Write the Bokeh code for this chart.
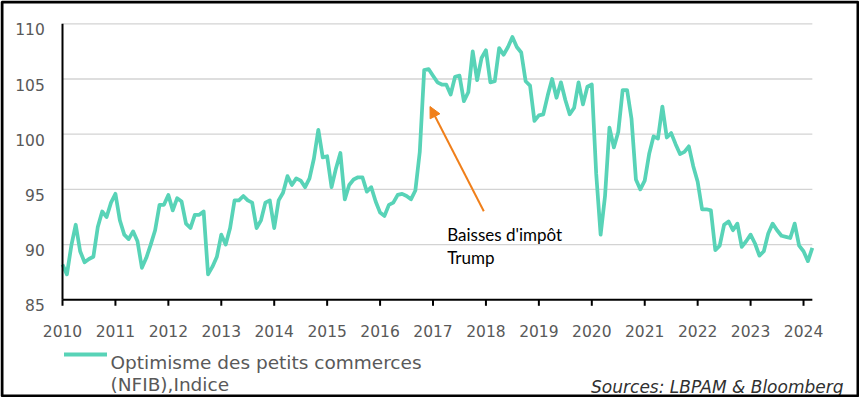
import numpy as np
from bokeh.plotting import figure
from bokeh.models import Label, Arrow, NormalHead, BoxAnnotation, Range1d, ColumnDataSource
from bokeh.core.properties import value
from bokeh.embed import file_html
from bokeh.resources import INLINE

# ---- data (monthly index, first point plotted at the start of 2010) ----
start_year = 2010
nfib = [
    88.2, 87.3, 89.9, 91.8, 89.4, 88.4, 88.7, 88.9, 91.6, 93.0, 92.5, 93.8,
    94.6, 92.2, 90.9, 90.5, 91.2, 90.3, 87.9, 88.8, 90.0, 91.3, 93.6, 93.6,
    94.5, 93.1, 94.2, 93.9, 91.9, 91.5, 92.7, 92.7, 93.0, 87.3, 88.0, 88.9,
    90.9, 90.0, 91.5, 94.0, 94.0, 94.4, 94.0, 93.8, 91.5, 92.2, 93.8, 94.0,
    91.5, 94.0, 94.7, 96.2, 95.4, 96.0, 95.8, 95.2, 96.0, 97.8, 100.4, 97.9,
    98.0, 95.2, 96.9, 98.3, 94.1, 95.4, 95.9, 96.1, 96.1, 94.8, 95.2, 93.9,
    92.9, 92.6, 93.6, 93.8, 94.5, 94.6, 94.4, 94.1, 94.9, 98.4, 105.8, 105.9,
    105.3, 104.7, 104.5, 104.5, 103.6, 105.2, 105.3, 103.0, 103.8, 107.5, 104.9, 106.9,
    107.6, 104.7, 104.8, 107.8, 107.2, 107.9, 108.8, 107.9, 107.4, 104.8, 104.4, 101.2,
    101.7, 101.8, 103.5, 105.0, 103.3, 104.7, 103.1, 101.8, 102.4, 104.7, 102.7, 104.3,
    104.5, 96.4, 90.9, 94.4, 100.6, 98.8, 100.2, 104.0, 104.0, 101.4, 95.9, 95.0,
    95.8, 98.2, 99.8, 99.6, 102.5, 99.7, 100.1, 99.1, 98.2, 98.4, 98.9, 97.1,
    95.7, 93.2, 93.2, 93.1, 89.5, 89.9, 91.8, 92.1, 91.3, 91.9, 89.8, 90.3,
    90.9, 90.1, 89.0, 89.4, 91.0, 91.9, 91.3, 90.8, 90.7, 90.6, 91.9, 89.9,
    89.4, 88.5, 89.7,
]
year_ticks = list(range(2010, 2025))
y_ticks = [85, 90, 95, 100, 105, 110]
series_label_1 = "Optimisme des petits commerces"
series_label_2 = "(NFIB),Indice"
source_text = "Sources: LBPAM & Bloomberg"
annot_lines = ["Baisses d'impôt", "Trump"]

x = start_year + np.arange(len(nfib)) / 12.0
src = ColumnDataSource(data=dict(x=x, y=nfib))

# ---- layout (pixels) ----
W, H = 859, 397
PX_X0 = 62.0        # pixel of first year tick
PX_PER_YEAR = 52.93
PX_Y_TOP = 23.3     # pixel of the top y tick
PX_PER_UNIT = 11.04
Y_MIN, Y_MAX = y_ticks[0], y_ticks[-1]

def dx(px):
    return start_year + (px - PX_X0) / PX_PER_YEAR

def dy(py):
    return Y_MAX - (py - PX_Y_TOP) / PX_PER_UNIT

LINE_COLOR = "#58D3B7"
ORANGE = "#F07F1A"
AXIS_FONT = "DejaVu Sans"
LABEL_GREY = "#595959"

p = figure(width=W, height=H, output_backend="svg", toolbar_location=None,
           x_range=Range1d(dx(0), dx(W)), y_range=Range1d(dy(H), dy(0)),
           x_axis_type=None, y_axis_type=None,
           min_border=0, min_border_left=0, min_border_right=0,
           min_border_top=0, min_border_bottom=0)
p.outline_line_color = None
p.background_fill_color = "white"
p.border_fill_color = "white"

x_end = float(x[-1])

# horizontal grid lines
grid_y = y_ticks[1:]
p.segment(x0=[start_year] * len(grid_y), y0=grid_y, x1=[x_end] * len(grid_y), y1=grid_y,
          line_color="#D3D3D3", line_width=1.3)

# series
p.line("x", "y", source=src, line_color=LINE_COLOR, line_width=3.75, line_join="round")

# axes lines
p.segment(x0=[start_year, start_year], y0=[Y_MIN, Y_MIN], x1=[x_end, start_year], y1=[Y_MIN, Y_MAX],
          line_color="black", line_width=2)
# x ticks
tick_len = 6 / PX_PER_UNIT
p.segment(x0=year_ticks, y0=[Y_MIN] * len(year_ticks), x1=year_ticks,
          y1=[Y_MIN - tick_len] * len(year_ticks), line_color="black", line_width=2)
# x tick labels
x_lab_y = Y_MIN - (330.0 - (PX_Y_TOP + (Y_MAX - Y_MIN) * PX_PER_UNIT)) / PX_PER_UNIT
p.text(x=year_ticks, y=[x_lab_y] * len(year_ticks), text=[str(t) for t in year_ticks],
       text_align="center", text_baseline="alphabetic", text_font=value(AXIS_FONT),
       text_font_size="15.5px", text_color=LABEL_GREY)
# y tick labels
y_lab_x = start_year - 17.7 / PX_PER_YEAR
p.text(x=[y_lab_x] * len(y_ticks), y=[t - 5.5 / PX_PER_UNIT for t in y_ticks],
       text=[str(t) for t in y_ticks], text_align="right", text_baseline="alphabetic",
       text_font=value(AXIS_FONT), text_font_size="15.5px", text_color=LABEL_GREY)

# annotation arrow + text
p.add_layout(Arrow(end=NormalHead(size=11, fill_color=ORANGE, line_color=ORANGE),
                   x_start=dx(483.3), y_start=dy(210.7), x_end=dx(429.5), y_end=dy(106.0),
                   line_color=ORANGE, line_width=2))
for i, t in enumerate(annot_lines):
    p.add_layout(Label(x=dx(446.7), y=dy(234.3 + 22.4 * i), text=t, text_baseline="alphabetic",
                       text_font="Lato", text_font_size="17px", text_color="black"))

# legend (manual, two text lines)
p.add_layout(Arrow(end=None, x_start=63.5, y_start=H - 354, x_end=106.5, y_end=H - 354,
                   start_units="screen", end_units="screen",
                   line_color=LINE_COLOR, line_width=4))
p.add_layout(Label(x=110, y=H - 362, x_units="screen", y_units="screen", text=series_label_1,
                   text_baseline="alphabetic", text_font=AXIS_FONT, text_font_size="18.5px",
                   text_color=LABEL_GREY))
p.add_layout(Label(x=110, y=H - 383.7, x_units="screen", y_units="screen", text=series_label_2,
                   text_baseline="alphabetic", text_font=AXIS_FONT, text_font_size="18.5px",
                   text_color=LABEL_GREY))
p.add_layout(Label(x=843, y=H - 386.7, x_units="screen", y_units="screen", text=source_text,
                   text_align="right", text_baseline="alphabetic", text_font=AXIS_FONT,
                   text_font_style="italic", text_font_size="17px", text_color="#303030"))

# outer border
p.add_layout(BoxAnnotation(left=1.5, right=W - 1.5, bottom=1.5, top=H - 1.5,
                           left_units="screen", right_units="screen",
                           bottom_units="screen", top_units="screen",
                           fill_alpha=0, line_color="black", line_alpha=1.0, line_width=3))

open("out.html", "w").write(file_html(p, INLINE))
